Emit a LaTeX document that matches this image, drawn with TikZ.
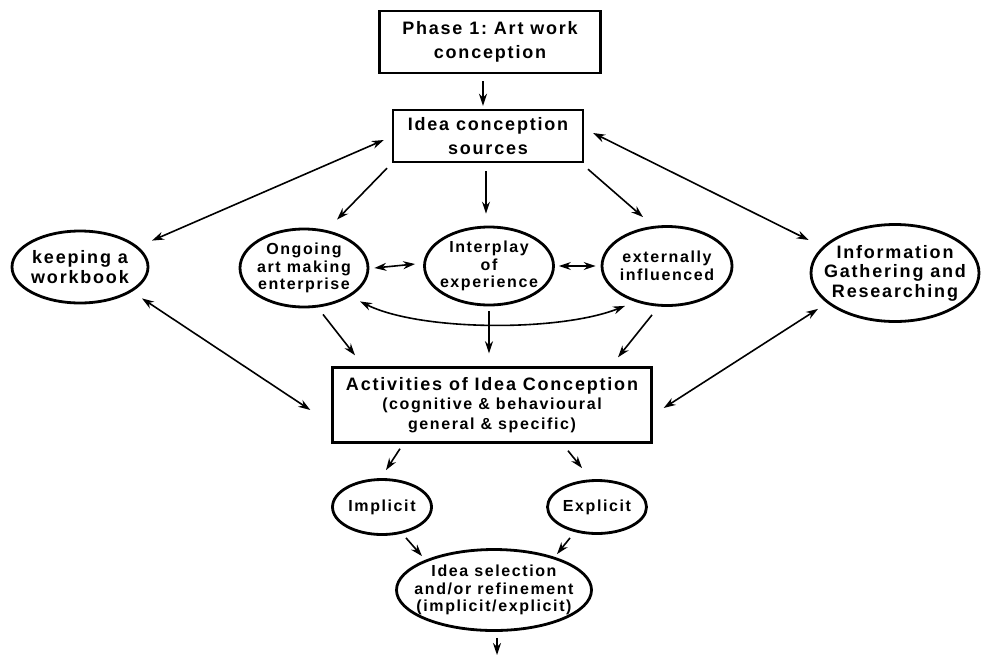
\documentclass[tikz,border=0pt]{standalone}
\usepackage{fontspec}
\setmainfont{Liberation Sans}[LetterSpace=10]
\frenchspacing
\usetikzlibrary{shapes.geometric,arrows.meta}
\newcommand{\smallline}{\fontsize{16}{19.5}\selectfont}
\begin{document}
\begin{tikzpicture}[x=1pt,y=-1pt,
  box/.style={draw,line width=2.4pt,rectangle,inner sep=0pt,align=center,
    font=\fontsize{18}{24}\selectfont\bfseries},
  oval/.style={draw,line width=2.8pt,ellipse,inner sep=0pt},
  lbl/.style={align=center,inner sep=0pt,font=\fontsize{16}{17.5}\selectfont\bfseries},
  lblbig/.style={align=center,inner sep=0pt,font=\fontsize{18}{19.5}\selectfont\bfseries},
  tip/.tip={Stealth[length=12pt,width=8pt]},
  arr/.style={-tip,line width=1.6pt},
  darr/.style={tip-tip,line width=1.6pt}]
\useasboundingbox (0,0) rectangle (981,656);

% rectangular stages
\node[box,minimum width=221pt,minimum height=62pt] (phase) at (490,42) {Phase 1: Art work\\conception};
\node[box,minimum width=190pt,minimum height=52pt] (src) at (488,136) {Idea conception\\sources};
\node[box,minimum width=319pt,minimum height=75pt,font=\fontsize{18}{19.5}\selectfont\bfseries] (act) at (492,405)
  {Activities of Idea Conception\\\smallline(cognitive \& behavioural\\\smallline general \& specific)};

% oval stages
\node[oval,minimum width=136pt,minimum height=72pt] (wb) at (80,267) {};
\node[lblbig] (wb-t) at (wb) {keeping a\\workbook};
\node[oval,minimum width=128pt,minimum height=78pt] (ong) at (304,268) {};
\node[lbl] (ong-t) at (ong) {Ongoing\\art making\\enterprise};
\node[oval,minimum width=129pt,minimum height=78pt] (inter) at (489,266) {};
\node[lbl] (inter-t) at (inter) {Interplay\\of\\experience};
\node[oval,minimum width=130pt,minimum height=79pt] (ext) at (667,266) {};
\node[lbl] (ext-t) at (ext) {externally\\influenced};
\node[oval,minimum width=168pt,minimum height=97pt] (info) at (895,273) {};
\node[lblbig] (info-t) at (info) {Information\\Gathering and\\Researching};
\node[oval,minimum width=99pt,minimum height=55pt] (imp) at (382,507) {};
\node[lbl] (imp-t) at (imp) {Implicit};
\node[oval,minimum width=99pt,minimum height=53pt] (exp) at (597,507) {};
\node[lbl] (exp-t) at (exp) {Explicit};
\node[oval,minimum width=195pt,minimum height=81pt] (sel) at (494,590) {};
\node[lbl] (sel-t) at (sel) {Idea selection\\and/or refinement\\(implicit/explicit)};
\coordinate (out) at (497,655);

% connectors
\draw[arr] ([xshift=-7pt,yshift=-7pt]phase.south) -- ([xshift=-5pt,yshift=3pt]src.north);
\draw[darr] ([xshift=-8pt,yshift=-4pt]src.west) -- ([xshift=72pt,yshift=-11pt]wb.north);
\draw[arr] ([xshift=-101pt,yshift=-5pt]src.south) -- ([xshift=33pt,yshift=8pt]ong.north);
\draw[arr] ([xshift=-2pt,yshift=-8pt]src.south) -- ([xshift=-3pt,yshift=12pt]inter.north);
\draw[arr] ([xshift=100pt,yshift=-6pt]src.south) -- ([xshift=-24pt,yshift=8pt]ext.north);
\draw[darr] ([xshift=9pt,yshift=3pt]src.east) -- ([xshift=-1pt,yshift=33pt]info.west);
\draw[darr] ([xshift=5pt]ong.east) -- ([xshift=-8pt,yshift=2pt]inter.west);
\draw[darr] ([xshift=4pt]inter.east) -- ([xshift=-5pt]ext.west);
\draw[darr] ([xshift=56pt,yshift=7pt]ong.south) .. controls +(60,30) and +(-65,26) .. ([xshift=-42pt,yshift=1pt]ext.south);
\draw[arr] ([xshift=19pt,yshift=-6pt]ong.south) -- ([xshift=-137pt,yshift=11pt]act.north);
\draw[arr] ([yshift=-5pt]inter.south) -- ([xshift=-3pt,yshift=13pt]act.north);
\draw[arr] ([xshift=-15pt,yshift=-8pt]ext.south) -- ([xshift=126pt,yshift=9pt]act.north);
\draw[darr] ([xshift=62pt,yshift=6pt]wb.south) -- ([xshift=-21pt,yshift=-5pt]act.west);
\draw[darr] ([xshift=-77pt,yshift=14pt]info.south) -- ([xshift=11pt,yshift=-3pt]act.east);
\draw[arr] ([xshift=-92pt,yshift=-5pt]act.south) -- ([xshift=4pt,yshift=8pt]imp.north);
\draw[arr] ([xshift=76pt,yshift=-7pt]act.south) -- ([xshift=-15pt,yshift=11pt]exp.north);
\draw[arr] ([xshift=24pt,yshift=-2pt]imp.south) -- ([xshift=-72pt,yshift=-8pt]sel.north);
\draw[arr] ([xshift=-27pt,yshift=-3pt]exp.south) -- ([xshift=63pt,yshift=-6pt]sel.north);
\draw[arr] ([xshift=3pt,yshift=-6pt]sel.south) -- (out);
\end{tikzpicture}
\end{document}
